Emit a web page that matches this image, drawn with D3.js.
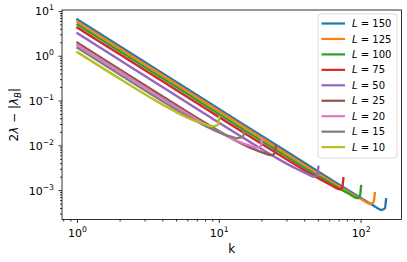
<!DOCTYPE html>
<html>
<head>
<meta charset="utf-8">
<script src="https://cdn.jsdelivr.net/npm/d3@7"></script>
<style>
  html, body { margin: 0; padding: 0; background: #fff; }
  svg { display: block; font-family: "DejaVu Sans", sans-serif; }
</style>
</head>
<body>
<svg id="chart" width="407" height="262"></svg>
<script>
// ---- data ----
const seriesL = [150, 125, 100, 75, 50, 25, 20, 15, 10];
const colors = ["#1f77b4", "#ff7f0e", "#2ca02c", "#d62728", "#9467bd", "#8c564b", "#e377c2", "#7f7f7f", "#bcbd22"];

const k150 = [1, 2, 4, 8, 16, 32, 64, 75, 105, 123, 139, 147, 150];
const v150 = [6.6, 1.65, 0.4125, 0.1031, 0.02578, 0.00645, 0.001624, 0.001189, 6.2e-4, 4.61e-4, 3.7e-4, 4.0e-4, 6.4e-4];

const k125 = [1, 2, 4, 8, 16, 32, 62.5, 87.5, 102.5, 115, 122.5, 125];
const v125 = [5.9, 1.475, 0.369, 0.0922, 0.02306, 0.00578, 1.545e-3, 8.19e-4, 6.18e-4, 5.1e-4, 5.5e-4, 8.8e-4];

const k100 = [1, 2, 4, 8, 16, 32, 50, 70, 82, 95, 98, 100];
const v100 = [5.1, 1.275, 0.3188, 0.0797, 0.01994, 0.00502, 0.0021, 1.125e-3, 8.57e-4, 6.8e-4, 7.35e-4, 1.27e-3];

const k75 = [1, 2, 4, 8, 16, 32, 37.5, 52.5, 61.5, 70.6, 73.5, 75];
const v75 = [4.35, 1.0875, 0.2719, 0.068, 0.01704, 0.004337, 3.198e-3, 1.725e-3, 1.322e-3, 1.07e-3, 1.155e-3, 1.89e-3];

const k50 = [1, 2, 4, 8, 16, 25, 35, 41, 47, 49, 50];
const v50 = [3.25, 0.8125, 0.2032, 0.05088, 0.01289, 0.005503, 3.078e-3, 2.43e-3, 2.04e-3, 2.2e-3, 3.4e-3];

const k25 = [1, 2, 4, 8, 12.5, 17.5, 20.5, 23.3, 24.5, 25];
const v25 = [2.0, 0.5002, 0.1254, 0.03211, 0.01414, 8.41e-3, 6.96e-3, 6.19e-3, 6.7e-3, 9.8e-3];

const k20 = [1, 2, 4, 8, 10, 14, 16.4, 18.7, 19.6, 20];
const v20 = [1.79, 0.4479, 0.1127, 0.02968, 0.02004, 0.01212, 0.01016, 9.11e-3, 9.84e-3, 0.0139];

const k15 = [1, 2, 4, 7.5, 10.5, 12.3, 13.2, 14.7, 15];
const v15 = [1.54, 0.3859, 0.09807, 0.0308, 0.01875, 0.01578, 0.01485, 0.016, 0.0205];

const k10 = [1, 2, 4, 5, 7, 8.2, 9.0, 9.8, 10];
const v10 = [1.23, 0.3102, 0.08228, 0.05595, 0.03455, 0.02936, 0.02734, 0.0295, 0.044];

const xMajorTicks = [1, 10, 100];
const xMajorExp = ["0", "1", "2"];
const yMajorTicks = [1e-3, 1e-2, 1e-1, 1, 10];
const yMajorExp = ["\u22123", "\u22122", "\u22121", "0", "1"];

const kArrays = [k150, k125, k100, k75, k50, k25, k20, k15, k10];
const vArrays = [v150, v125, v100, v75, v50, v25, v20, v15, v10];

// ---- layout ----
const plotLeft = 62, plotRight = 401.5, plotTop = 10, plotBottom = 219.5;
const svg = d3.select("#chart");

const series = seriesL.map((L, i) => ({
  L, color: colors[i],
  pts: kArrays[i].map((k, j) => ({ k, v: vArrays[i][j] }))
}));

const allK = kArrays.flat(), allV = vArrays.flat();
function padLog(min, max, frac) {
  const a = Math.log10(min), b = Math.log10(max), m = (b - a) * frac;
  return [Math.pow(10, a - m), Math.pow(10, b + m)];
}
const x = d3.scaleLog().domain(padLog(d3.min(allK), d3.max(allK), 0.05)).range([plotLeft, plotRight]);
const y = d3.scaleLog().domain(padLog(d3.min(allV), d3.max(allV), 0.05)).range([plotBottom, plotTop]);

// clip
svg.append("defs").append("clipPath").attr("id", "clip")
  .append("rect").attr("x", plotLeft).attr("y", plotTop)
  .attr("width", plotRight - plotLeft).attr("height", plotBottom - plotTop);

// lines
const line = d3.line().x(d => x(d.k)).y(d => y(d.v)).curve(d3.curveMonotoneX);
const gLines = svg.append("g").attr("clip-path", "url(#clip)");
series.forEach(s => {
  gLines.append("path").datum(s.pts)
    .attr("d", line)
    .attr("fill", "none")
    .attr("stroke", s.color)
    .attr("stroke-width", 2.4)
    .attr("stroke-linejoin", "round")
    .attr("stroke-linecap", "square");
});

// ticks
const gAx = svg.append("g").attr("stroke", "#000").attr("stroke-width", 0.8);
function minorTicks(scale) {
  const [d0, d1] = scale.domain();
  const out = [];
  for (let e = Math.floor(Math.log10(d0)); e <= Math.ceil(Math.log10(d1)); e++) {
    for (let m = 2; m <= 9; m++) {
      const v = m * Math.pow(10, e);
      if (v >= d0 && v <= d1) out.push(v);
    }
  }
  return out;
}
minorTicks(x).forEach(v => {
  gAx.append("line").attr("x1", x(v)).attr("x2", x(v)).attr("y1", plotBottom).attr("y2", plotBottom + 2);
});
xMajorTicks.forEach(v => {
  gAx.append("line").attr("x1", x(v)).attr("x2", x(v)).attr("y1", plotBottom).attr("y2", plotBottom + 3.5);
});
minorTicks(y).forEach(v => {
  gAx.append("line").attr("y1", y(v)).attr("y2", y(v)).attr("x1", plotLeft).attr("x2", plotLeft - 2);
});
yMajorTicks.forEach(v => {
  gAx.append("line").attr("y1", y(v)).attr("y2", y(v)).attr("x1", plotLeft).attr("x2", plotLeft - 3.5);
});

// frame
svg.append("rect").attr("x", plotLeft).attr("y", plotTop)
  .attr("width", plotRight - plotLeft).attr("height", plotBottom - plotTop)
  .attr("fill", "none").attr("stroke", "#000").attr("stroke-width", 0.8);

// tick labels
const tickFont = 11;
xMajorTicks.forEach((v, i) => {
  const t = svg.append("text").attr("x", x(v)).attr("y", plotBottom + 17)
    .attr("text-anchor", "middle").attr("font-size", tickFont).attr("fill", "#000");
  t.append("tspan").text("10");
  t.append("tspan").attr("dy", -5).attr("font-size", 7.7).text(xMajorExp[i]);
});
yMajorTicks.forEach((v, i) => {
  const t = svg.append("text").attr("x", 54).attr("y", y(v) + 4)
    .attr("text-anchor", "end").attr("font-size", tickFont).attr("fill", "#000");
  t.append("tspan").text("10");
  t.append("tspan").attr("dy", -5).attr("font-size", 7.7).text(yMajorExp[i]);
});

// axis labels
svg.append("text").attr("x", (plotLeft + plotRight) / 2).attr("y", 253)
  .attr("text-anchor", "middle").attr("font-size", 12).text("k");

const yl = svg.append("text")
  .attr("transform", `translate(18,${(plotTop + plotBottom) / 2}) rotate(-90)`)
  .attr("text-anchor", "middle").attr("font-size", 12);
yl.append("tspan").text("2");
yl.append("tspan").attr("font-style", "italic").text("\u03bb");
yl.append("tspan").text(" \u2212 |");
yl.append("tspan").attr("font-style", "italic").text("\u03bb");
yl.append("tspan").attr("font-style", "italic").attr("font-size", 8.5).attr("dy", 2.5).text("B");
yl.append("tspan").attr("dy", -2.5).text("|");

// legend
const legX = 318, legY = 14, legW = 79, legH = 144;
svg.append("rect").attr("x", legX).attr("y", legY).attr("width", legW).attr("height", legH)
  .attr("rx", 2.5).attr("fill", "#fff").attr("fill-opacity", 0.8)
  .attr("stroke", "#d0d0d0").attr("stroke-width", 0.8);
series.forEach((s, i) => {
  const cy = 23.5 + i * 15.45;
  svg.append("line").attr("x1", 321.5).attr("x2", 345).attr("y1", cy).attr("y2", cy)
    .attr("stroke", s.color).attr("stroke-width", 2.2);
  const t = svg.append("text").attr("x", 352).attr("y", cy + 3.6).attr("font-size", 10);
  t.append("tspan").attr("font-style", "italic").text("L");
  t.append("tspan").text(" = " + s.L);
});
</script>
</body>
</html>
